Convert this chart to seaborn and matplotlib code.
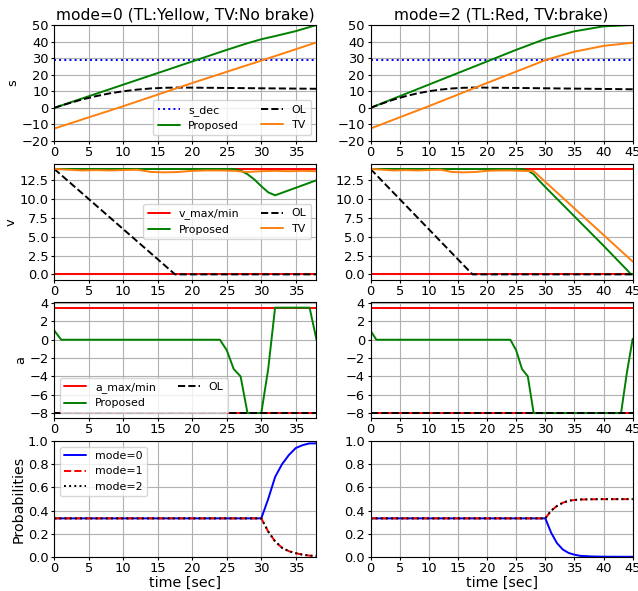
import numpy as np
import pandas as pd
import matplotlib
matplotlib.use("Agg")
import matplotlib.pyplot as plt
import seaborn as sns

# ---------------- data ----------------
titles = ["mode=0 (TL:Yellow, TV:No brake)", "mode=2 (TL:Red, TV:brake)"]
t_end = [38, 45]

s_dec = 29.0
v_max, v_min = 14.0, 0.0
a_max, a_min = 3.5, -8.0

# --- left column (mode=0) ---
L_s_prop_t = [0, 5, 10, 15, 20, 25, 28, 30, 32, 35, 38]
L_s_prop = [0, 7, 14, 21, 28, 35, 39, 41.4, 43.3, 46.3, 50]
L_s_tv_t = [0, 10, 20, 30, 38]
L_s_tv = [-12.5, 1.0, 15.0, 28.5, 39.5]
L_s_ol_t = [0, 2, 4, 6, 8, 10, 12, 14, 16, 18, 25, 30, 38]
L_s_ol = [0, 2.6, 5.0, 7.0, 8.7, 10.0, 11.0, 11.7, 12.1, 12.25, 12.0, 11.8, 11.5]

L_v_prop_t = [0, 26, 27, 28, 29, 30, 31, 32, 35, 38]
L_v_prop = [14, 14, 13.8, 13.3, 12.6, 11.7, 10.9, 10.5, 11.5, 12.5]
L_v_tv_t = [0, 2, 4, 6, 8, 10, 12, 14, 16, 18, 20, 22, 24, 26, 28, 30, 32, 34, 36, 38]
L_v_tv = [14.0, 13.9, 13.8, 13.85, 13.8, 13.85, 13.9, 13.6, 13.55, 13.6, 13.75,
          13.8, 13.8, 13.75, 13.6, 13.7, 13.75, 13.7, 13.75, 13.7]
L_v_ol_t = [0, 17.5, 38]
L_v_ol = [14, 0, 0]

L_a_prop_t = [0, 1, 24, 25, 26, 27, 28, 30, 31, 32, 37, 38]
L_a_prop = [1, 0, 0, -1.15, -3.2, -4.0, -8, -8, -3.2, 3.5, 3.5, 0]
L_a_ol_t = [0, 38]
L_a_ol = [-8, -8]

L_p_t = [0, 30, 31, 32, 33, 34, 35, 36, 37, 38]
L_p0 = [1/3, 1/3, 0.5, 0.69, 0.8, 0.88, 0.94, 0.965, 0.98, 0.98]
L_p1 = [1/3, 1/3, 0.22, 0.135, 0.08, 0.05, 0.033, 0.02, 0.012, 0.01]
L_p2 = [1/3, 1/3, 0.22, 0.135, 0.08, 0.05, 0.033, 0.02, 0.012, 0.01]

# --- right column (mode=2) ---
R_s_prop_t = [0, 5, 10, 15, 20, 25, 30, 35, 40, 45]
R_s_prop = [0, 7, 14, 21, 28, 35, 41.6, 46.2, 49.2, 50]
R_s_tv_t = [0, 10, 20, 28, 30, 35, 40, 45]
R_s_tv = [-12.5, 1.0, 15.0, 26.0, 28.8, 33.9, 37.4, 39.3]
R_s_ol_t = [0, 2, 4, 6, 8, 10, 12, 14, 16, 18, 25, 30, 45]
R_s_ol = [0, 2.6, 5.0, 7.0, 8.7, 10.0, 11.0, 11.7, 12.1, 12.25, 12.0, 11.8, 11.2]

R_v_prop_t = [0, 26, 27, 28, 29, 30, 40, 44, 44.6, 45]
R_v_prop = [14, 14, 13.8, 13.3, 12.4, 11.6, 3.8, 0.6, 0.1, 0.0]
R_v_tv_t = [0, 2, 4, 6, 8, 10, 12, 14, 16, 18, 20, 22, 24, 26, 28, 45]
R_v_tv = [14.0, 13.9, 13.8, 13.85, 13.8, 13.85, 13.9, 13.6, 13.55, 13.6, 13.75,
          13.8, 13.8, 13.75, 13.7, 1.7]
R_v_ol_t = [0, 17.5, 45]
R_v_ol = [14, 0, 0]

R_a_prop_t = [0, 1, 24, 25, 26, 27, 28, 43, 44, 45]
R_a_prop = [1, 0, 0, -1.15, -3.2, -4.0, -8, -8, -3.6, 0.1]
R_a_ol_t = [0, 45]
R_a_ol = [-8, -8]

R_p_t = [0, 30, 31, 32, 33, 34, 35, 36, 38, 40, 45]
R_p0 = [1/3, 1/3, 0.21, 0.12, 0.065, 0.035, 0.02, 0.01, 0.005, 0.003, 0.002]
R_p1 = [1/3, 1/3, 0.4, 0.44, 0.468, 0.485, 0.492, 0.496, 0.498, 0.499, 0.499]
R_p2 = [1/3, 1/3, 0.4, 0.44, 0.468, 0.485, 0.492, 0.496, 0.498, 0.499, 0.499]

cols = [
    dict(s_prop=(L_s_prop_t, L_s_prop), s_tv=(L_s_tv_t, L_s_tv), s_ol=(L_s_ol_t, L_s_ol),
         v_prop=(L_v_prop_t, L_v_prop), v_tv=(L_v_tv_t, L_v_tv), v_ol=(L_v_ol_t, L_v_ol),
         a_prop=(L_a_prop_t, L_a_prop), a_ol=(L_a_ol_t, L_a_ol),
         p=(L_p_t, L_p0, L_p1, L_p2)),
    dict(s_prop=(R_s_prop_t, R_s_prop), s_tv=(R_s_tv_t, R_s_tv), s_ol=(R_s_ol_t, R_s_ol),
         v_prop=(R_v_prop_t, R_v_prop), v_tv=(R_v_tv_t, R_v_tv), v_ol=(R_v_ol_t, R_v_ol),
         a_prop=(R_a_prop_t, R_a_prop), a_ol=(R_a_ol_t, R_a_ol),
         p=(R_p_t, R_p0, R_p1, R_p2)),
]

# ---------------- style ----------------
sns.set_style("ticks", {"axes.grid": True, "grid.color": "#b0b0b0",
                        "axes.edgecolor": "black", "xtick.color": "black",
                        "ytick.color": "black", "text.color": "black",
                        "axes.labelcolor": "black"})
plt.rcParams["font.family"] = ["DejaVu Sans"]
plt.rcParams["grid.linewidth"] = 0.8
plt.rcParams["axes.linewidth"] = 0.8
plt.rcParams["xtick.major.size"] = 2.0
plt.rcParams["ytick.major.size"] = 2.0
plt.rcParams["lines.linewidth"] = 1.4

TICK = 9.4
LEG = 7.9
TITLE = 11.2
LABEL_BIG = 10.3

fig, axes = plt.subplots(4, 2, figsize=(6.38, 5.91), dpi=100)
fig.subplots_adjust(left=0.0851, right=0.9917, top=0.9577, bottom=0.0575,
                    wspace=0.206, hspace=0.196)


def line(ax, xy, **kw):
    x, y = xy
    sns.lineplot(x=np.asarray(x, float), y=np.asarray(y, float), ax=ax,
                 estimator=None, sort=False, **kw)


for c, d in enumerate(cols):
    te = t_end[c]
    # ---- s ----
    ax = axes[0, c]
    line(ax, ([0, te], [s_dec, s_dec]), color="blue", linestyle=":", label="s_dec")
    line(ax, d["s_prop"], color="green", label="Proposed")
    line(ax, d["s_ol"], color="black", linestyle="--", label="OL")
    line(ax, d["s_tv"], color="#ff7f0e", label="TV")
    ax.set_ylim(-20, 50)
    ax.set_yticks(np.arange(-20, 51, 10))
    ax.set_title(titles[c], fontsize=TITLE, pad=4)
    if c == 0:
        ax.set_ylabel("s", fontsize=TICK, labelpad=1.5)
        ax.legend(loc="lower right", ncol=2, fontsize=LEG)
    # ---- v ----
    ax = axes[1, c]
    line(ax, ([0, te], [v_max, v_max]), color="red", label="v_max/min")
    line(ax, ([0, te], [v_min, v_min]), color="red", label="_nolegend_")
    line(ax, d["v_prop"], color="green", label="Proposed")
    line(ax, d["v_ol"], color="black", linestyle="--", label="OL")
    line(ax, d["v_tv"], color="#ff7f0e", label="TV")
    ax.set_yticks(np.arange(0, 14, 2.5))
    if c == 0:
        ax.set_ylabel("v", fontsize=TICK, labelpad=1.5)
        ax.legend(loc="center right", ncol=2, fontsize=LEG)
    # ---- a ----
    ax = axes[2, c]
    line(ax, ([0, te], [a_max, a_max]), color="red", label="a_max/min")
    line(ax, ([0, te], [a_min, a_min]), color="red", label="_nolegend_")
    line(ax, d["a_prop"], color="green", label="Proposed")
    line(ax, d["a_ol"], color="black", linestyle="--", label="OL")
    ax.set_yticks(np.arange(-8, 5, 2))
    if c == 0:
        ax.set_ylabel("a", fontsize=TICK, labelpad=1.5)
        ax.legend(loc="lower left", ncol=2, fontsize=LEG)
    # ---- probabilities ----
    ax = axes[3, c]
    pt, p0, p1, p2 = d["p"]
    line(ax, (pt, p0), color="blue", label="mode=0")
    line(ax, (pt, p1), color="red", linestyle="--", label="mode=1")
    line(ax, (pt, p2), color="black", linestyle=":", label="mode=2")
    ax.set_ylim(0, 1)
    ax.set_yticks(np.arange(0, 1.01, 0.2))
    ax.set_xlabel("time [sec]", fontsize=LABEL_BIG, labelpad=1)
    if c == 0:
        ax.set_ylabel("Probabilities", fontsize=LABEL_BIG, labelpad=2.0)
        ax.legend(loc="upper left", ncol=1, fontsize=LEG)

    for r in range(4):
        a_ = axes[r, c]
        a_.set_xlim(0, te)
        a_.set_xticks(np.arange(0, te + 1, 5))
        if r < 3:
            a_.set_xlabel("")
        if c == 1 and a_.get_legend() is not None:
            a_.get_legend().remove()
        a_.tick_params(axis="x", labelsize=TICK, pad=1.5)
        a_.tick_params(axis="y", labelsize=TICK, pad=2.0)

fig.savefig("out.png", dpi=100)
